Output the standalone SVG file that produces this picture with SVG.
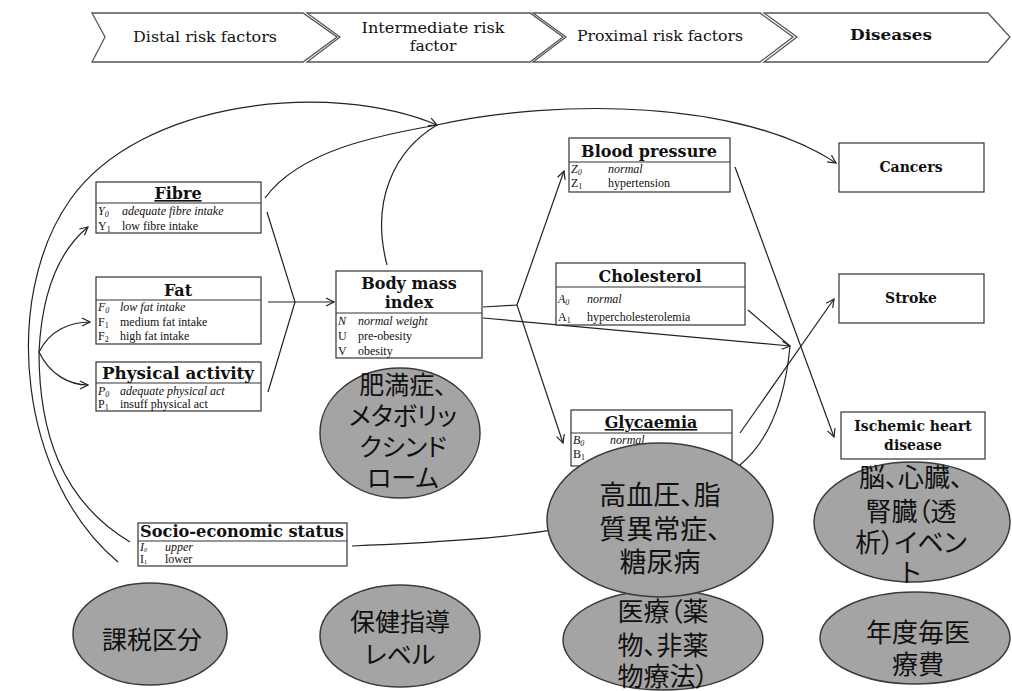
<svg xmlns="http://www.w3.org/2000/svg" width="1012" height="691" viewBox="0 0 1012 691">
<defs>
<style>
.bg{fill:#ffffff}
.chev{fill:#ffffff;stroke:#555555;stroke-width:1.3}
.ban{font-family:"DejaVu Serif","Liberation Serif",serif;font-size:15.5px;fill:#111;text-anchor:middle}
.box{fill:#ffffff;stroke:#333333;stroke-width:1.2}
.sep{stroke:#333333;stroke-width:1.2}
.ttl{font-family:"DejaVu Serif","Liberation Serif",serif;font-weight:bold;font-size:16px;fill:#111;text-anchor:middle}
.row{font-family:"Liberation Serif",serif;font-size:12px;fill:#111}
.it{font-style:italic}
.dis{font-family:"DejaVu Serif","Liberation Serif",serif;font-weight:bold;font-size:14px;fill:#111;text-anchor:middle}
.ell{fill:#a4a4a4;stroke:#3a3a3a;stroke-width:1.5}
.jp{font-family:"Noto Sans CJK JP",sans-serif;font-feature-settings:"palt";fill:#111;text-anchor:middle}
.con{fill:none;stroke:#222;stroke-width:1.2}
</style>
<marker id="ah" viewBox="0 0 10 10" refX="9" refY="5" markerWidth="10" markerHeight="10" markerUnits="userSpaceOnUse" orient="auto">
<path d="M1,1 L9,5 L1,9" fill="none" stroke="#222" stroke-width="1.2"/>
</marker>
</defs>
<rect class="bg" x="0" y="0" width="1012" height="691"/>

<g id="banner">
<polygon class="chev" points="92,13 303,13 337,37 303,62 92,62 105,37"/>
<polygon class="chev" points="307,13 530,13 563,37 530,62 307,62 340,37"/>
<polygon class="chev" points="533,13 760,13 793,37 760,62 533,62 566,37"/>
<polygon class="chev" points="764,13 988,13 1010,37 988,62 764,62 797,37"/>
<text class="ban" x="205" y="42" textLength="144" lengthAdjust="spacingAndGlyphs">Distal risk factors</text>
<text class="ban" x="433" y="33" textLength="143" lengthAdjust="spacingAndGlyphs">Intermediate  risk</text>
<text class="ban" x="433" y="51">factor</text>
<text class="ban" x="660" y="41" textLength="166" lengthAdjust="spacingAndGlyphs">Proximal risk factors</text>
<text class="ban" x="891" y="40" font-weight="bold" textLength="82" lengthAdjust="spacingAndGlyphs">Diseases</text>
</g>

<g id="connectors">
<path class="con" marker-end="url(#ah)" d="M118,562 C20,480 0,300 70,200 C140,100 330,80 437,125"/>
<path class="con" d="M130,542 C60,500 39,430 39,352"/>
<path class="con" marker-end="url(#ah)" d="M39,352 C42,290 60,250 88,227"/>
<path class="con" marker-end="url(#ah)" d="M39,352 C50,330 70,322 90,322"/>
<path class="con" marker-end="url(#ah)" d="M39,352 C50,375 70,385 88,385"/>
<path class="con" d="M265,198 C300,150 380,135 437,125"/>
<path class="con" d="M387,265 C370,200 395,150 437,125"/>
<path class="con" marker-end="url(#ah)" d="M437,125 C560,98 740,100 836,163"/>
<path class="con" d="M267,212 L295,302 L268,392"/>
<path class="con" marker-end="url(#ah)" d="M268,302 L334,302"/>
<path class="con" d="M483,307 L517,305"/>
<path class="con" marker-end="url(#ah)" d="M517,305 L564,171"/>
<path class="con" marker-end="url(#ah)" d="M517,305 L563,443"/>
<path class="con" marker-end="url(#ah)" d="M483,318 L790,346"/>
<path class="con" marker-end="url(#ah)" d="M735,167 L834,437"/>
<path class="con" marker-end="url(#ah)" d="M740,433 L834,299"/>
<path class="con" d="M748,310 L790,346"/>
<path class="con" d="M352,546 C500,540 650,530 740,465 C770,440 785,400 790,346"/>
</g>

<g id="fibre">
<rect class="box" x="96" y="182" width="165" height="51"/>
<line class="sep" x1="96" y1="203" x2="261" y2="203"/>
<text class="ttl" x="178" y="199" text-decoration="underline">Fibre</text>
<text class="row" x="98" y="215"><tspan class="it">Y<tspan font-size="8" dy="2">0</tspan></tspan><tspan class="it" x="122" dy="-2">adequate fibre intake</tspan></text>
<text class="row" x="98" y="230">Y<tspan font-size="8" dy="2">1</tspan><tspan x="122" dy="-2">low fibre intake</tspan></text>
</g>

<g id="fat">
<rect class="box" x="96" y="277" width="165" height="67"/>
<line class="sep" x1="96" y1="300" x2="261" y2="300"/>
<text class="ttl" x="178" y="296" font-size="17">Fat</text>
<text class="row" x="98" y="311"><tspan class="it">F<tspan font-size="8" dy="2">0</tspan></tspan><tspan class="it" x="120" dy="-2">low fat intake</tspan></text>
<text class="row" x="98" y="326">F<tspan font-size="8" dy="2">1</tspan><tspan x="120" dy="-2">medium  fat intake</tspan></text>
<text class="row" x="98" y="340">F<tspan font-size="8" dy="2">2</tspan><tspan x="120" dy="-2">high fat intake</tspan></text>
</g>

<g id="physical">
<rect class="box" x="96" y="362" width="165" height="49"/>
<line class="sep" x1="96" y1="383" x2="261" y2="383"/>
<text class="ttl" x="178" y="379" textLength="152" lengthAdjust="spacingAndGlyphs">Physical activity</text>
<text class="row" x="98" y="395"><tspan class="it">P<tspan font-size="8" dy="2">0</tspan></tspan><tspan class="it" x="120" dy="-2">adequate physical act</tspan></text>
<text class="row" x="98" y="408">P<tspan font-size="8" dy="2">1</tspan><tspan x="120" dy="-2">insuff physical act</tspan></text>
</g>

<g id="bmi">
<rect class="box" x="336" y="271" width="146" height="87"/>
<line class="sep" x1="336" y1="313" x2="482" y2="313"/>
<text class="ttl" x="409" y="289" font-size="17">Body mass</text>
<text class="ttl" x="409" y="308" font-size="17">index</text>
<text class="row" x="338" y="325"><tspan class="it">N</tspan><tspan class="it" x="358">normal weight</tspan></text>
<text class="row" x="338" y="340">U<tspan x="358">pre-obesity</tspan></text>
<text class="row" x="338" y="355">V<tspan x="358">obesity</tspan></text>
</g>

<g id="bp">
<rect class="box" x="569" y="138" width="161" height="54"/>
<line class="sep" x1="569" y1="162" x2="730" y2="162"/>
<text class="ttl" x="649" y="157">Blood pressure</text>
<text class="row" x="571" y="173"><tspan class="it">Z<tspan font-size="8" dy="2">0</tspan></tspan><tspan class="it" x="608" dy="-2">normal</tspan></text>
<text class="row" x="571" y="187">Z<tspan font-size="8" dy="2">1</tspan><tspan x="608" dy="-2">hypertension</tspan></text>
</g>

<g id="cholesterol">
<rect class="box" x="556" y="263" width="189" height="62"/>
<line class="sep" x1="556" y1="287" x2="745" y2="287"/>
<text class="ttl" x="650" y="282">Cholesterol</text>
<text class="row" x="558" y="303"><tspan class="it">A<tspan font-size="8" dy="2">0</tspan></tspan><tspan class="it" x="587" dy="-2">normal</tspan></text>
<text class="row" x="558" y="321">A<tspan font-size="8" dy="2">1</tspan><tspan x="587" dy="-2">hypercholesterolemia</tspan></text>
</g>

<g id="glycaemia">
<rect class="box" x="571" y="410" width="161" height="56"/>
<line class="sep" x1="571" y1="433" x2="732" y2="433"/>
<text class="ttl" x="651" y="428" text-decoration="underline">Glycaemia</text>
<text class="row" x="573" y="444"><tspan class="it">B<tspan font-size="8" dy="2">0</tspan></tspan><tspan class="it" x="610" dy="-2">normal</tspan></text>
<text class="row" x="573" y="458">B<tspan font-size="8" dy="2">1</tspan></text>
</g>

<g id="cancers">
<rect class="box" x="839" y="143" width="145" height="49"/>
<text class="dis" x="911" y="172">Cancers</text>
</g>
<g id="stroke">
<rect class="box" x="839" y="274" width="145" height="49"/>
<text class="dis" x="911" y="303">Stroke</text>
</g>
<g id="ischemic">
<rect class="box" x="841" y="412" width="144" height="47"/>
<text class="dis" x="913" y="431">Ischemic heart</text>
<text class="dis" x="913" y="450">disease</text>
</g>

<g id="ses">
<rect class="box" x="138" y="523" width="209" height="43"/>
<line class="sep" x1="138" y1="541" x2="347" y2="541"/>
<text class="ttl" x="242" y="537" font-size="17" textLength="204" lengthAdjust="spacingAndGlyphs">Socio-economic status</text>
<text class="row" x="140" y="551" font-size="8.5"><tspan class="it">I<tspan font-size="6" dy="1">0</tspan></tspan><tspan class="it" x="165" dy="-1">upper</tspan></text>
<text class="row" x="140" y="563" font-size="8.5">I<tspan font-size="6" dy="1">1</tspan><tspan x="165" dy="-1">lower</tspan></text>
</g>

<g id="e-obesity">
<ellipse class="ell" cx="400" cy="433" rx="80" ry="65"/>
<text class="jp" x="403" y="394" font-size="25">肥満症、</text>
<text class="jp" x="403" y="425" font-size="25">メタボリッ</text>
<text class="jp" x="403" y="456" font-size="25">クシンド</text>
<text class="jp" x="403" y="487" font-size="25">ローム</text>
</g>

<g id="e-medical">
<ellipse class="ell" cx="663" cy="640" rx="100" ry="50"/>
<text class="jp" x="663" y="621" font-size="26">医療（薬</text>
<text class="jp" x="663" y="655" font-size="26">物、非薬</text>
<text class="jp" x="663" y="686" font-size="26">物療法）</text>
</g>

<g id="e-proximal">
<ellipse class="ell" cx="660" cy="520" rx="113" ry="77"/>
<text class="jp" x="660" y="505" font-size="27">高血圧、脂</text>
<text class="jp" x="660" y="539" font-size="27">質異常症、</text>
<text class="jp" x="660" y="572" font-size="27">糖尿病</text>
</g>

<g id="e-events">
<ellipse class="ell" cx="912" cy="522" rx="98" ry="60"/>
<text class="jp" x="911" y="487" font-size="26">脳、心臓、</text>
<text class="jp" x="911" y="521" font-size="26">腎臓（透</text>
<text class="jp" x="911" y="552" font-size="26">析）イベン</text>
<text class="jp" x="911" y="582" font-size="26">ト</text>
</g>

<g id="e-cost">
<ellipse class="ell" cx="915" cy="638" rx="95" ry="46"/>
<text class="jp" x="918" y="642" font-size="26">年度毎医</text>
<text class="jp" x="918" y="674" font-size="26">療費</text>
</g>

<g id="e-tax">
<ellipse class="ell" cx="150" cy="634" rx="77" ry="51"/>
<text class="jp" x="152" y="649" font-size="25">課税区分</text>
</g>

<g id="e-guidance">
<ellipse class="ell" cx="400" cy="636" rx="80" ry="51"/>
<text class="jp" x="400" y="631" font-size="25">保健指導</text>
<text class="jp" x="400" y="664" font-size="25">レベル</text>
</g>
</svg>
